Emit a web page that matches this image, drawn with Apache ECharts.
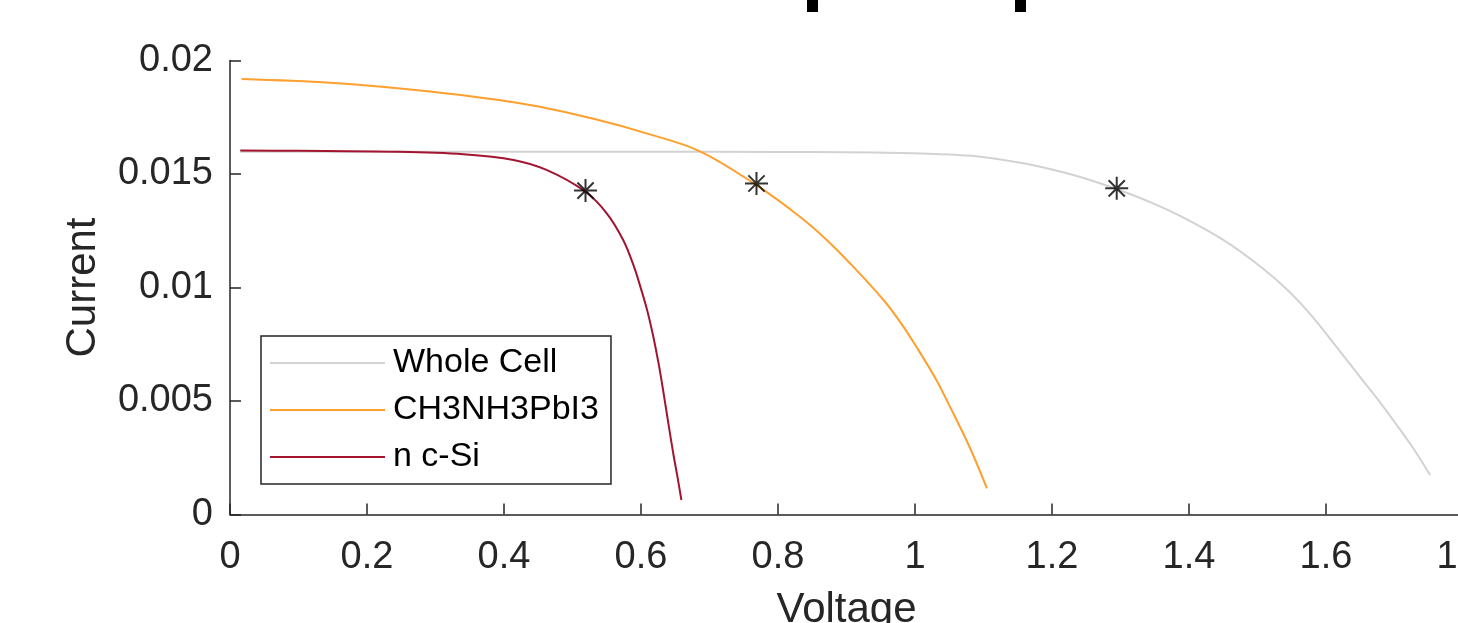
<!DOCTYPE html>
<html>
<head>
<meta charset="utf-8">
<script src="https://cdn.jsdelivr.net/npm/echarts@6/dist/echarts.min.js"></script>
<style>
html,body{margin:0;padding:0;background:#fff;}
#chart{width:1458px;height:623px;}
</style>
</head>
<body>
<div id="chart"></div>
<script>
// ---- data ----
const seriesNames = ['Whole Cell', 'CH3NH3PbI3', 'n c-Si'];

const wholeCellV = [0.015, 0.2, 0.4, 0.6, 0.8, 0.9, 0.978, 1.02, 1.082, 1.134, 1.186, 1.24, 1.293, 1.345, 1.394, 1.45, 1.498, 1.54, 1.576, 1.615, 1.653, 1.68, 1.705, 1.73, 1.752];
const wholeCellI = [0.01598, 0.01598, 0.01598, 0.01598, 0.01597, 0.01596, 0.01593, 0.01589, 0.01580, 0.01559, 0.01530, 0.01488, 0.01435, 0.01374, 0.01305, 0.01210, 0.01107, 0.01000, 0.00886, 0.00740, 0.00593, 0.00490, 0.00387, 0.00280, 0.00174];

const perovskiteV = [0.017, 0.146, 0.292, 0.438, 0.535, 0.608, 0.686, 0.768, 0.832, 0.87, 0.905, 0.954, 0.98, 1.002, 1.03, 1.051, 1.08, 1.105];
const perovskiteI = [0.01919, 0.01902, 0.01863, 0.01804, 0.01740, 0.01679, 0.01600, 0.01452, 0.01312, 0.01213, 0.01107, 0.00945, 0.00841, 0.00739, 0.00599, 0.00475, 0.00295, 0.00115];

const siliconV = [0.015, 0.1, 0.243, 0.341, 0.414, 0.462, 0.518, 0.550, 0.574, 0.59, 0.599, 0.609, 0.618, 0.626, 0.633, 0.64, 0.647, 0.653, 0.659];
const siliconI = [0.01603, 0.01602, 0.01598, 0.01587, 0.01562, 0.01518, 0.01424, 0.01327, 0.01209, 0.01090, 0.01004, 0.00900, 0.00783, 0.00660, 0.00534, 0.00400, 0.00270, 0.00170, 0.00064];

const mppV = [0.519, 0.7686, 1.2945];
const mppI = [0.01427, 0.01458, 0.01437];

const xTicks = ['0', '0.2', '0.4', '0.6', '0.8', '1', '1.2', '1.4', '1.6', '1.8'];
const yTicks = ['0', '0.005', '0.01', '0.015', '0.02'];

// ---- build chart ----
const pair = (xs, ys) => xs.map((x, i) => [x, ys[i]]);
const axisColor = '#262626';
const font = 'Liberation Sans, Arial, Helvetica, sans-serif';
const asterisk = 'path://M0,-10 L0,10 M-10,0 L10,0 M-7.07,-7.07 L7.07,7.07 M-7.07,7.07 L7.07,-7.07';

const chart = echarts.init(document.getElementById('chart'), null, {renderer: 'canvas'});
chart.setOption({
  animation: false,
  backgroundColor: '#ffffff',
  grid: {left: 230, top: 60.5, right: -5, bottom: 108.5, containLabel: false, outerBoundsMode: 'none'},
  xAxis: {
    type: 'value', min: 0, max: 1.8, interval: 0.2,
    name: 'Voltage', nameLocation: 'middle', nameGap: 75,
    nameTextStyle: {fontFamily: font, fontSize: 42, color: axisColor},
    axisLine: {show: true, lineStyle: {color: axisColor, width: 1.5}},
    axisTick: {show: true, inside: true, length: 11, lineStyle: {color: axisColor, width: 1.5}},
    axisLabel: {margin: 24, fontFamily: font, fontSize: 38, color: axisColor,
      formatter: (v) => xTicks[Math.round(v / 0.2)]},
    splitLine: {show: false}
  },
  yAxis: {
    type: 'value', min: 0, max: 0.02, interval: 0.005,
    name: 'Current', nameLocation: 'middle', nameGap: 126,
    nameTextStyle: {fontFamily: font, fontSize: 42, color: axisColor},
    axisLine: {show: true, lineStyle: {color: axisColor, width: 1.5}},
    axisTick: {show: true, inside: true, length: 11, lineStyle: {color: axisColor, width: 1.5}},
    axisLabel: {margin: 17, fontFamily: font, fontSize: 38, color: axisColor,
      formatter: (v) => yTicks[Math.round(v / 0.005)]},
    splitLine: {show: false}
  },
  legend: {
    data: seriesNames,
    orient: 'vertical',
    left: 261, top: 336,
    icon: 'rect',
    itemWidth: 115, itemHeight: 2, itemGap: 11,
    padding: [9, 12, 9, 9],
    borderColor: axisColor, borderWidth: 1.5,
    backgroundColor: '#ffffff',
    selectedMode: false,
    textStyle: {fontFamily: font, fontSize: 34, color: '#000000', lineHeight: 36, padding: [0, 0, 0, 3]}
  },
  graphic: [
    {type: 'rect', left: 807, top: 0, shape: {width: 11, height: 12}, style: {fill: '#000'}},
    {type: 'rect', left: 1015, top: 0, shape: {width: 11, height: 12}, style: {fill: '#000'}}
  ],
  series: [
    {name: seriesNames[0], type: 'line', data: pair(wholeCellV, wholeCellI), symbol: 'none', smooth: 0.35,
      lineStyle: {color: '#d2d2d2', width: 2}, itemStyle: {color: '#d2d2d2'}, z: 2},
    {name: seriesNames[1], type: 'line', data: pair(perovskiteV, perovskiteI), symbol: 'none', smooth: 0.35,
      lineStyle: {color: '#ff9f2e', width: 2}, itemStyle: {color: '#ff9f2e'}, z: 3},
    {name: seriesNames[2], type: 'line', data: pair(siliconV, siliconI), symbol: 'none', smooth: 0.35,
      lineStyle: {color: '#a2142f', width: 2}, itemStyle: {color: '#a2142f'}, z: 4},
    {name: 'MPP', type: 'scatter', data: pair(mppV, mppI), symbol: asterisk, symbolSize: 23, symbolKeepAspect: true,
      itemStyle: {color: 'rgba(0,0,0,0)', borderColor: '#000000', borderWidth: 2}, z: 10}
  ]
});
</script>
</body>
</html>
